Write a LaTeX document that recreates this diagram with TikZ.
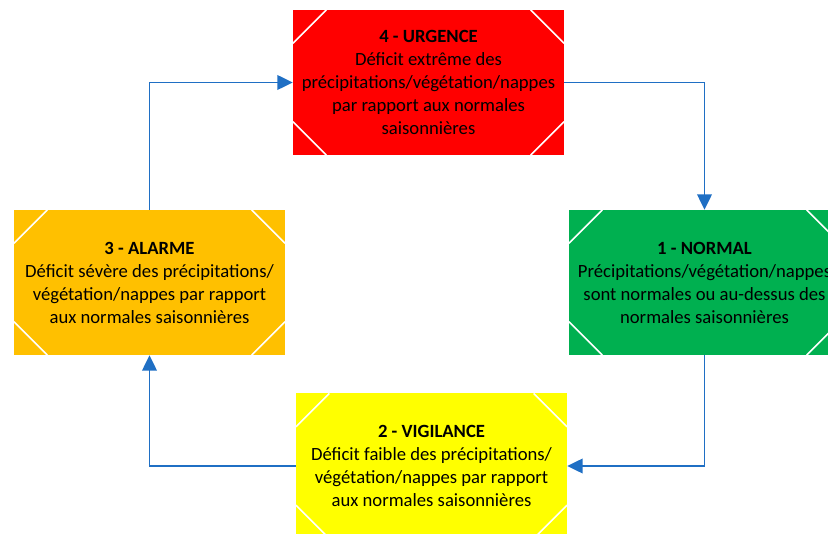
\documentclass[tikz,border=0pt]{standalone}
\usepackage{fontspec}
\setmainfont{Carlito}
\usetikzlibrary{arrows.meta}
\definecolor{cRed}{HTML}{FF0000}
\definecolor{cGreen}{HTML}{00B050}
\definecolor{cOrange}{HTML}{FFC000}
\definecolor{cYellow}{HTML}{FFFF00}
\definecolor{cBlue}{HTML}{1F6FC4}
\tikzset{
  cutline/.style={draw=white, line width=1.2pt},
  levelbox/.style={
    fill=#1, draw=none, inner sep=0pt,
    minimum width=203.25pt, minimum height=108.75pt,
    align=center, text=black,
    font=\fontsize{14}{17.25}\selectfont,
    path picture={
      \draw[cutline] ([xshift=25pt]path picture bounding box.north west) -- ([yshift=-25pt]path picture bounding box.north west);
      \draw[cutline] ([xshift=-25pt]path picture bounding box.north east) -- ([yshift=-25pt]path picture bounding box.north east);
      \draw[cutline] ([xshift=25pt]path picture bounding box.south west) -- ([yshift=25pt]path picture bounding box.south west);
      \draw[cutline] ([xshift=-25pt]path picture bounding box.south east) -- ([yshift=25pt]path picture bounding box.south east);
    }
  },
  flow/.style={draw=cBlue, line width=1.1pt, -{Triangle[length=11.5pt,width=11pt]}}
}
\begin{document}
\begin{tikzpicture}[x=0.75pt,y=-0.75pt]
\useasboundingbox (0,0) rectangle (828,534);
\clip (0,0) rectangle (828,534);
\node[levelbox=cRed] (urg) at (428.5,82.5) {\textbf{4 - URGENCE}\\Déficit extrême des\\précipitations/végétation/nappes\\par rapport aux normales\\saisonnières};
\node[levelbox=cGreen] (nor) at (704.5,282.5) {\textbf{1 - NORMAL}\\Précipitations/végétation/nappes\\sont normales ou au-dessus des\\normales saisonnières};
\node[levelbox=cOrange] (ala) at (149.5,282.5) {\textbf{3 - ALARME}\\Déficit sévère des précipitations/\\végétation/nappes par rapport\\aux normales saisonnières};
\node[levelbox=cYellow] (vig) at (431.5,466) {\textbf{2 - VIGILANCE}\\Déficit faible des précipitations/\\végétation/nappes par rapport\\aux normales saisonnières};
\draw[flow] (ala.north) |- (urg.west);
\draw[flow] (urg.east) -| (nor.north);
\draw[flow] (nor.south) |- (vig.east);
\draw[flow] (vig.west) -| (ala.south);
\end{tikzpicture}
\end{document}
